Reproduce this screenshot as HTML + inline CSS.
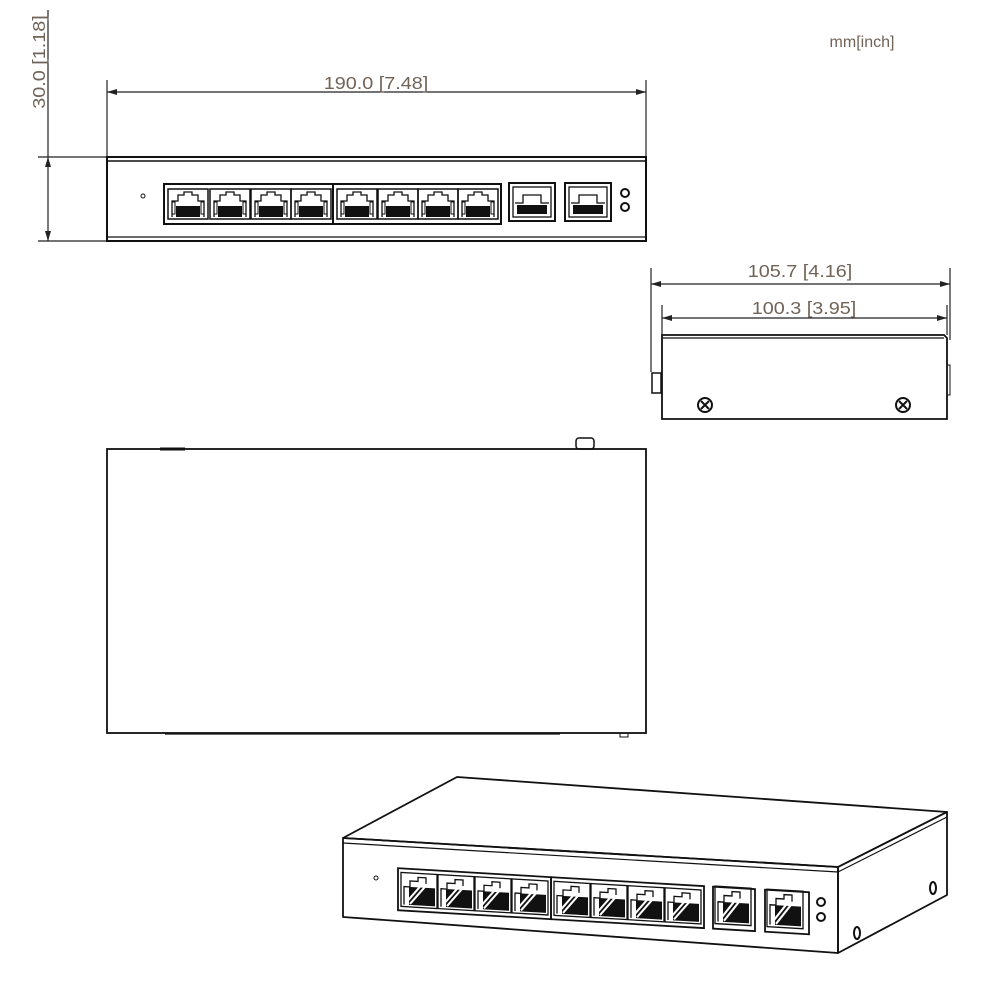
<!DOCTYPE html>
<html><head><meta charset="utf-8"><style>
html,body{margin:0;padding:0;background:#fff;}
svg{display:block}
text{font-family:"Liberation Sans",sans-serif;fill:#706458;}
</style></head><body>
<svg width="1000" height="1000" viewBox="0 0 1000 1000" xmlns="http://www.w3.org/2000/svg">
<defs>
<marker id="ar" viewBox="0 0 10 6" refX="10" refY="3" markerWidth="10" markerHeight="6" orient="auto-start-reverse" markerUnits="userSpaceOnUse"><path d="M0,0 L10,3 L0,6 z" fill="#222"/></marker>
<g id="rj">
<rect x="0" y="0" width="40" height="30" fill="none" stroke="#111" stroke-width="1.5"/>
<path d="M4,28 V12 H10 V6 H16 V3 H24 V6 H30 V12 H36 V28" fill="none" stroke="#111" stroke-width="1.3"/>
<rect x="8" y="17" width="24" height="11" fill="#111"/>
<rect x="4" y="13" width="3" height="12" fill="none" stroke="#111" stroke-width="1"/>
<rect x="33" y="13" width="3" height="12" fill="none" stroke="#111" stroke-width="1"/>
</g>
<g id="sfp">
<rect x="0" y="0" width="46" height="38" fill="none" stroke="#111" stroke-width="2"/>
<rect x="4" y="4" width="38" height="30" fill="none" stroke="#111" stroke-width="1.3"/>
<path d="M6,20 H14 V12 H32 V20 H40" fill="none" stroke="#111" stroke-width="1.3"/>
<rect x="8" y="22" width="30" height="9" fill="#111"/>
</g>
<g id="irj">
<rect x="0" y="0" width="36" height="34" fill="none" stroke="#111" stroke-width="1.3"/>
<path d="M3,32 V14 H9 V8 H17 V4 H25 V10" fill="none" stroke="#111" stroke-width="1.3"/>
<rect x="8" y="14" width="26" height="18" fill="#111"/>
<path d="M5,30 L20,12 M9,31 L24,13" stroke="#fff" stroke-width="2"/>
</g>
</defs>

<g stroke="#222" fill="none" stroke-width="1.2">
<line x1="107" y1="80" x2="107" y2="157"/>
<line x1="646" y1="80" x2="646" y2="157"/>
<line x1="107" y1="92" x2="646" y2="92" marker-start="url(#ar)" marker-end="url(#ar)"/>
<line x1="38" y1="157" x2="107" y2="157"/>
<line x1="38" y1="241" x2="107" y2="241"/>
<line x1="48" y1="157" x2="48" y2="241" marker-start="url(#ar)" marker-end="url(#ar)"/>
<line x1="48" y1="10" x2="48" y2="157"/>
</g>
<text x="0" y="0" font-size="18" text-anchor="middle" transform="translate(376,89) scale(1.1,1)">190.0  [7.48]</text>
<text x="0" y="0" font-size="18" text-anchor="middle" transform="translate(45,62) rotate(-90) scale(1.1,1)">30.0  [1.18]</text>
<text x="862" y="47" font-size="16" text-anchor="middle">mm[inch]</text>

<g stroke="#111" fill="none">
<rect x="107" y="157" width="539" height="84" stroke-width="2"/>
<line x1="107" y1="161" x2="646" y2="161" stroke-width="1.5"/>
<line x1="107" y1="237" x2="646" y2="237" stroke-width="1.3"/>
<circle cx="143" cy="196" r="2" stroke-width="1"/>
<rect x="164" y="184" width="169" height="40" stroke-width="2"/>
<rect x="333" y="184" width="168" height="40" stroke-width="2"/>
<circle cx="625" cy="193" r="4" stroke-width="2"/>
<circle cx="625" cy="207" r="4" stroke-width="2"/>
</g>
<use href="#rj" x="168" y="189"/><use href="#rj" x="210" y="189"/><use href="#rj" x="251" y="189"/><use href="#rj" x="291" y="189"/>
<use href="#rj" x="337" y="189"/><use href="#rj" x="378" y="189"/><use href="#rj" x="418" y="189"/><use href="#rj" x="458" y="189"/>
<use href="#sfp" x="509" y="183"/><use href="#sfp" x="565" y="183"/>

<g stroke="#222" fill="none" stroke-width="1.2">
<line x1="651" y1="268" x2="651" y2="372"/>
<line x1="950" y1="268" x2="950" y2="340"/>
<line x1="651" y1="284" x2="950" y2="284" marker-start="url(#ar)" marker-end="url(#ar)"/>
<line x1="662" y1="305" x2="662" y2="335"/>
<line x1="947" y1="305" x2="947" y2="335"/>
<line x1="662" y1="318" x2="947" y2="318" marker-start="url(#ar)" marker-end="url(#ar)"/>
</g>
<text x="0" y="0" font-size="18" text-anchor="middle" transform="translate(800,277) scale(1.1,1)">105.7  [4.16]</text>
<text x="0" y="0" font-size="18" text-anchor="middle" transform="translate(804,314) scale(1.1,1)">100.3  [3.95]</text>
<g stroke="#111" fill="none">
<path d="M662,335 H944 L947,338 V419 H662 Z" stroke-width="1.8"/>
<line x1="662" y1="338" x2="944" y2="338" stroke-width="1.2"/>
<rect x="652" y="373" width="9" height="20" stroke-width="1.5"/>
<rect x="947" y="365" width="3" height="30" stroke-width="1"/>
<circle cx="705" cy="405" r="7" stroke-width="2"/>
<circle cx="903" cy="405" r="7" stroke-width="2"/>
<path d="M701,401 L709,409 M709,401 L701,409 M899,401 L907,409 M907,401 L899,409" stroke-width="2"/>
</g>

<g stroke="#111" fill="none">
<rect x="107" y="449" width="539" height="284" stroke-width="1.8"/>
<line x1="160" y1="449" x2="185" y2="449" stroke-width="3"/>
<line x1="165" y1="734" x2="560" y2="734" stroke-width="1.2"/>
<rect x="576" y="438" width="18" height="11" rx="3" stroke-width="1.5"/>
<rect x="620" y="733" width="8" height="4" stroke-width="1"/>
</g>

<g stroke="#111" fill="none" stroke-width="1.8" stroke-linejoin="round">
<path d="M343,838 L457,777 L947,812 L838,867 Z"/>
<path d="M343,838 L838,867 L838,953 L343,917 Z"/>
<path d="M838,867 L947,812 L947,895 L838,953 Z"/>
<path d="M343,843 L838,872 L947,817" stroke-width="1.2"/>
<circle cx="376" cy="878" r="2" stroke-width="1"/>
<ellipse cx="933" cy="888" rx="3" ry="6" stroke-width="2"/>
<ellipse cx="857" cy="933" rx="3" ry="6" stroke-width="2"/>
<circle cx="821" cy="902" r="4" stroke-width="2"/>
<circle cx="821" cy="917" r="4" stroke-width="2"/>
</g>
<g transform="translate(343,838) skewY(3.35)">
<rect x="55" y="27" width="153" height="42" fill="none" stroke="#111" stroke-width="1.8"/>
<rect x="208" y="27" width="153" height="42" fill="none" stroke="#111" stroke-width="1.8"/>
<use href="#irj" x="58" y="31"/><use href="#irj" x="95" y="31"/><use href="#irj" x="132" y="31"/><use href="#irj" x="169" y="31"/>
<use href="#irj" x="211" y="31"/><use href="#irj" x="248" y="31"/><use href="#irj" x="285" y="31"/><use href="#irj" x="322" y="31"/>
<use href="#irj" x="372" y="27" transform="scale(1,1.1) translate(0,-3)"/>
<rect x="370" y="27" width="42" height="42" fill="none" stroke="#111" stroke-width="1.8"/>
<use href="#irj" x="424" y="27" transform="scale(1,1.1) translate(0,-3)"/>
<rect x="422" y="27" width="44" height="42" fill="none" stroke="#111" stroke-width="1.8"/>
</g>
</svg>
</body></html>
